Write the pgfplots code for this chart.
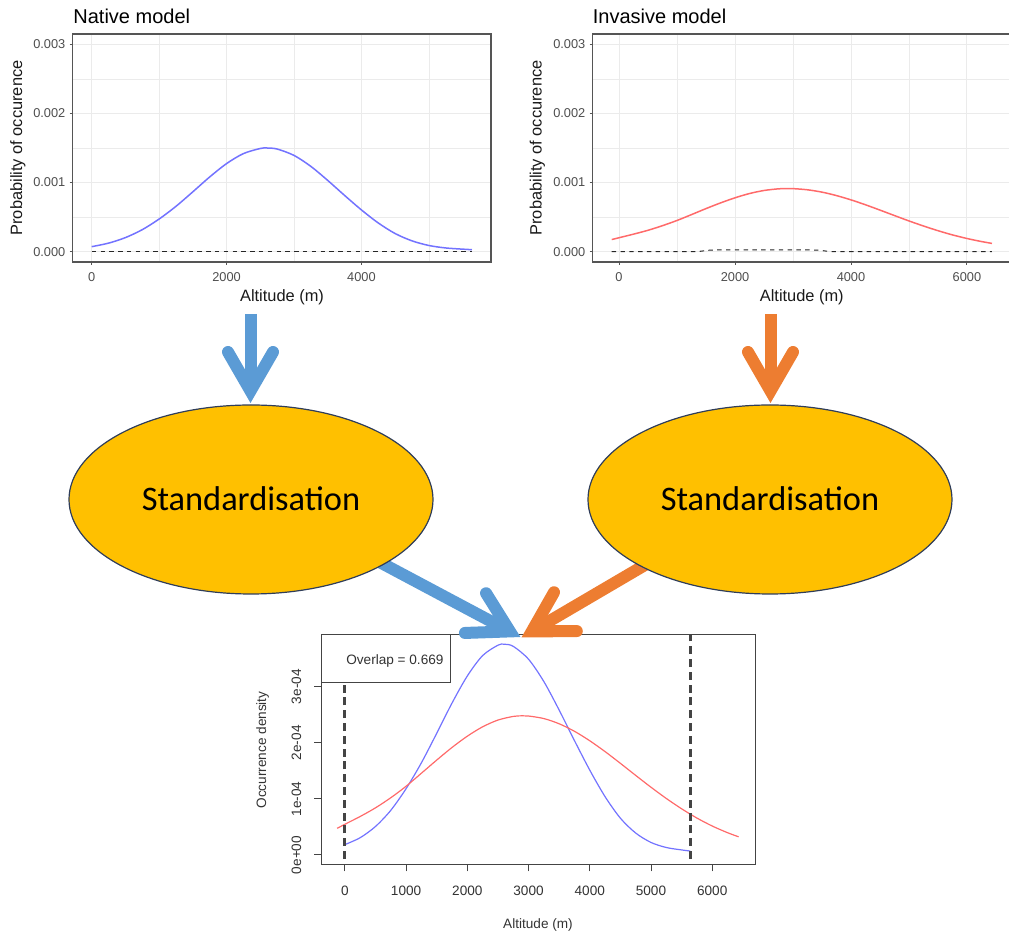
\documentclass[border=0pt]{standalone}
\usepackage{pgfplots}
\pgfplotsset{compat=1.18}
\usepackage{pgfplotstable}
\usepackage{fontspec}
\setmainfont{Liberation Sans}
\newfontfamily\calibri{Carlito}
\usetikzlibrary{calc}

\definecolor{gridgrey}{HTML}{EBEBEB}
\definecolor{ggframe}{HTML}{555555}
\definecolor{ticktext}{HTML}{4D4D4D}
\definecolor{rframe}{HTML}{444444}
\definecolor{rtext}{HTML}{333333}
\definecolor{nativeblue}{HTML}{7373FF}
\definecolor{invred}{HTML}{FF6A6A}
\definecolor{arrowblue}{HTML}{5B9BD5}
\definecolor{arroworange}{HTML}{ED7D31}
\definecolor{gold}{HTML}{FFC000}
\definecolor{ellipseline}{HTML}{2F3D5A}

% native model: probability of occurrence along altitude
\pgfplotstableread{
alt prob
0    0.000072
250  0.000123
500  0.000203
750  0.000318
1000 0.000472
1250 0.000656
1500 0.000866
1750 0.001081
2000 0.001274
2250 0.001419
2500 0.001493
2600 0.001500
2750 0.001485
3000 0.001393
3250 0.001234
3500 0.001031
3750 0.000814
4000 0.000604
4250 0.000415
4500 0.000262
4750 0.000156
5000 0.000089
5250 0.000053
5500 0.000036
5640 0.000028
}\nativetab

% invasive model
\pgfplotstableread{
alt prob
-126 0.000175
0    0.000201
250  0.000253
500  0.000309
750  0.000376
1000 0.000451
1250 0.000536
1500 0.000623
1750 0.000705
2000 0.000779
2250 0.000841
2500 0.000885
2750 0.000909
2900 0.000913
3000 0.000912
3250 0.000895
3500 0.000861
3750 0.000811
4000 0.000749
4250 0.000678
4500 0.000601
4750 0.000522
5000 0.000444
5250 0.000371
5500 0.000303
5750 0.000242
6000 0.000190
6250 0.000146
6431 0.000119
}\invasivetab

% lower bound of the invasive model
\pgfplotstableread{
alt prob
-126 0
1350 0
1550 0.000020
1700 0.000024
3300 0.000024
3450 0.000020
3650 0
6431 0
}\invasivelow

% standardised densities
\pgfplotstableread{
alt dens
0    0.0000185
250  0.0000308
500  0.0000508
750  0.0000796
1000 0.0001182
1250 0.0001643
1500 0.0002168
1750 0.0002707
2000 0.0003190
2250 0.0003553
2500 0.0003738
2600 0.0003756
2750 0.0003718
3000 0.0003488
3250 0.0003090
3500 0.0002582
3750 0.0002038
4000 0.0001512
4250 0.0001039
4500 0.0000656
4750 0.0000391
5000 0.0000223
5250 0.0000133
5500 0.0000090
5640 0.0000070
}\nativestd

\pgfplotstableread{
alt dens
-126 0.0000475
0    0.0000547
250  0.0000686
500  0.0000840
750  0.0001020
1000 0.0001225
1250 0.0001457
1500 0.0001691
1750 0.0001916
2000 0.0002117
2250 0.0002284
2500 0.0002404
2750 0.0002469
2900 0.0002480
3000 0.0002476
3250 0.0002431
3500 0.0002338
3750 0.0002204
4000 0.0002035
4250 0.0001842
4500 0.0001633
4750 0.0001418
5000 0.0001207
5250 0.0001007
5500 0.0000823
5750 0.0000658
6000 0.0000516
6250 0.0000397
6431 0.0000324
}\invasivestd

\pgfplotsset{
  ggpanel/.style={
    scale only axis, width=209.15pt, height=114pt,
    ymin=-0.00015, ymax=0.00315,
    ytick={0,0.001,0.002,0.003},
    yticklabels={0.000,0.001,0.002,0.003},
    minor ytick={0.0005,0.0015,0.0025},
    grid=both,
    major grid style={gridgrey, line width=0.5pt},
    minor grid style={gridgrey, line width=0.3pt},
    axis line style={ggframe, line width=0.6pt},
    major tick style={ggframe, line width=0.5pt},
    major tick length=1.5pt, minor tick length=0pt,
    tick align=outside, tick pos=left,
    scaled ticks=false,
    /pgf/number format/assume math mode=true,
    ticklabel style={font=\fontsize{6.4}{7}\selectfont, text=ticktext, inner sep=0pt},
    xticklabel style={anchor=north, yshift=-3.5pt},
    yticklabel style={anchor=east, xshift=-2pt},
  },
  curve/.style={line width=0.75pt, smooth},
  ggdash/.style={black!85, line width=0.5pt, dash pattern=on 2.2pt off 2.2pt},
}

\newcommand\officearrow[3]{%
  \draw[#3, line width=6pt, line cap=butt] (#1) -- (#2);
  \draw[#3, line width=6pt, line cap=round, line join=miter, miter limit=10]
    ($(#2)!22.5pt!30:(#1)$) -- (#2) -- ($(#2)!22.5pt!-30:(#1)$);
}

\begin{document}
\begin{tikzpicture}[x=0.5pt, y=0.5pt]
\useasboundingbox (0,0) rectangle (1009,938);
\coordinate (nat) at (72.7,676);
\coordinate (inv) at (592.7,676);
\coordinate (bot) at (321,73.7);

% combined standardised densities
\begin{axis}[
  at={(bot)}, anchor=south west, scale only axis,
  width=217.35pt, height=114.65pt,
  xmin=-390, xmax=6710, ymin=-0.0000166, ymax=0.000392,
  xtick={0,1000,2000,3000,4000,5000,6000},
  xticklabels={0,1000,2000,3000,4000,5000,6000},
  ytick={0,0.0001,0.0002,0.0003},
  yticklabels={0e+00,1e-04,2e-04,3e-04},
  tick pos=left, tick align=outside, major tick length=3.5pt,
  axis line style={rframe, line width=0.5pt},
  major tick style={rframe, line width=0.5pt},
  scaled ticks=false,
  /pgf/number format/assume math mode=true,
  ticklabel style={font=\fontsize{6.8}{8}\selectfont, text=rtext, inner sep=0pt},
  xticklabel style={anchor=north, yshift=-7pt},
  yticklabel style={xshift=-6.2pt, rotate=90, anchor=south},
]
\addplot[nativeblue, line width=0.6pt, smooth] table[x=alt, y=dens] {\nativestd};
\addplot[invred, line width=0.6pt, smooth] table[x=alt, y=dens] {\invasivestd};
\addplot[rframe, line width=1.5pt, dash pattern=on 4pt off 2.4pt] coordinates {(0,-0.00003) (0,0.0005)};
\addplot[rframe, line width=1.5pt, dash pattern=on 4pt off 2.4pt] coordinates {(5650,-0.00003) (5650,0.0005)};
\draw[rframe, line width=0.5pt, fill=white] (rel axis cs:0,1) rectangle (rel axis cs:0.298,0.792);
\node[font=\fontsize{6.8}{8}\selectfont, text=rtext] at (rel axis cs:0.17,0.887) {Overlap = 0.669};
\end{axis}
\node[rotate=90, font=\fontsize{6.8}{8}\selectfont, text=rtext] at (262.7,188) {Occurrence density};
\node[font=\fontsize{6.8}{8}\selectfont, text=rtext] at (538,13) {Altitude (m)};

% arrows into the combined plot
\officearrow{377.4,377.1}{509.9,306.6}{arrowblue}
\officearrow{652.5,377.4}{531.8,306.6}{arroworange}

% standardisation steps
\draw[ellipseline, fill=gold, line width=0.6pt] (251,438.5) ellipse [x radius=91pt, y radius=47.25pt];
\draw[ellipseline, fill=gold, line width=0.6pt] (770,438.5) ellipse [x radius=91pt, y radius=47.25pt];
\node[font=\calibri\fontsize{17.2}{20}\selectfont] at (251,439) {Standardisation};
\node[font=\calibri\fontsize{17.2}{20}\selectfont] at (770,439) {Standardisation};

\officearrow{250.5,624}{250.5,547}{arrowblue}
\officearrow{770.5,624}{770.5,547}{arroworange}

% native model
\begin{axis}[ggpanel, at={(nat)}, anchor=south west,
  xmin=-282, xmax=5922,
  xtick={0,2000,4000}, xticklabels={0,2000,4000},
  minor xtick={1000,3000,5000}]
\addplot[ggdash] coordinates {(0,0) (5640,0)};
\addplot[nativeblue, curve] table[x=alt, y=prob] {\nativetab};
\end{axis}

% invasive model
\begin{axis}[ggpanel, at={(inv)}, anchor=south west,
  xmin=-454, xmax=6759,
  xtick={0,2000,4000,6000}, xticklabels={0,2000,4000,6000},
  minor xtick={1000,3000,5000}]
\addplot[ggdash] table[x=alt, y=prob] {\invasivelow};
\addplot[invred, curve] table[x=alt, y=prob] {\invasivetab};
\end{axis}

\node[anchor=base west, inner sep=0pt, font=\fontsize{10}{12}\selectfont] at (73,914) {Native model};
\node[anchor=base west, inner sep=0pt, font=\fontsize{10}{12}\selectfont] at (592.5,914) {Invasive model};
\node[rotate=90, font=\fontsize{8.2}{10}\selectfont, text=black!90] at (18,790) {Probability of occurence};
\node[rotate=90, font=\fontsize{8.2}{10}\selectfont, text=black!90] at (537.3,790) {Probability of occurence};
\node[font=\fontsize{8.2}{10}\selectfont, text=black!90] at (282,641) {Altitude (m)};
\node[font=\fontsize{8.2}{10}\selectfont, text=black!90] at (801.8,641) {Altitude (m)};
\end{tikzpicture}
\end{document}
